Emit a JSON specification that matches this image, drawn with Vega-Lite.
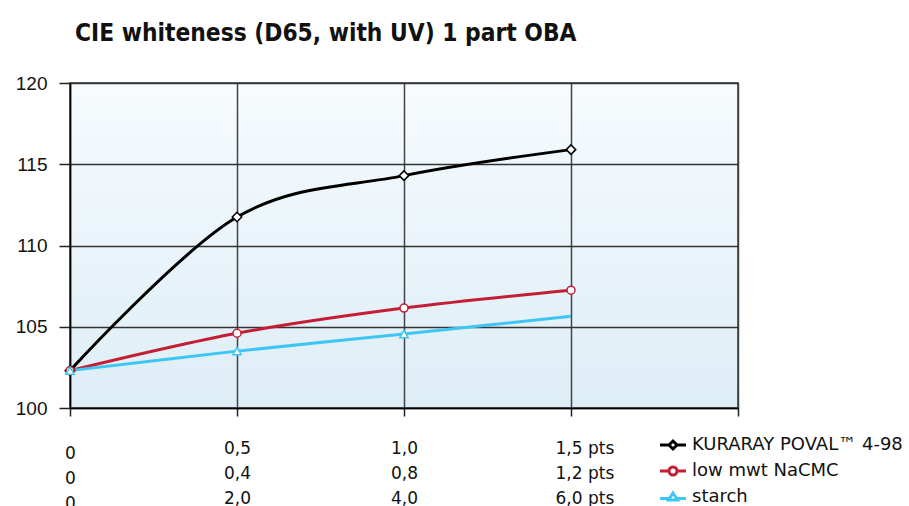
{
  "$schema": "https://vega.github.io/schema/vega-lite/v6.json",
  "width": 668,
  "height": 325,
  "autosize": {"type": "none"},
  "padding": {"left": 70, "top": 83, "right": 171, "bottom": 98},
  "background": "white",
  "title": {
    "text": "CIE whiteness (D65, with UV) 1 part OBA",
    "anchor": "start",
    "frame": "group",
    "dx": 5,
    "offset": 28,
    "font": "DejaVu Sans Condensed",
    "fontSize": 24.3,
    "fontWeight": "bold",
    "color": "#111111"
  },
  "config": {
    "view": {
      "fill": {
        "gradient": "linear",
        "x1": 0, "y1": 0, "x2": 0, "y2": 1,
        "stops": [
          {"offset": 0, "color": "#f7fbfe"},
          {"offset": 1, "color": "#ddedf6"}
        ]
      },
      "stroke": "#333333",
      "strokeWidth": 1.5
    },
    "legend": {
      "orient": "none",
      "legendX": 594,
      "legendY": 353,
      "padding": 0,
      "labelFont": "DejaVu Sans",
      "labelFontSize": 18,
      "labelColor": "#111111",
      "labelLimit": 300,
      "labelOffset": 10,
      "rowPadding": 6,
      "symbolSize": 100,
      "symbolStrokeWidth": 3,
      "symbolFillColor": "white"
    }
  },
  "data": {
    "values": [
      {"series": "KURARAY POVAL™ 4-98", "amount": 0, "whiteness": 102.3},
      {"series": "KURARAY POVAL™ 4-98", "amount": 0.5, "whiteness": 111.75},
      {"series": "KURARAY POVAL™ 4-98", "amount": 1.0, "whiteness": 114.3},
      {"series": "KURARAY POVAL™ 4-98", "amount": 1.5, "whiteness": 115.9},
      {"series": "low mwt NaCMC", "amount": 0, "whiteness": 102.3},
      {"series": "low mwt NaCMC", "amount": 0.5, "whiteness": 104.6},
      {"series": "low mwt NaCMC", "amount": 1.0, "whiteness": 106.15},
      {"series": "low mwt NaCMC", "amount": 1.5, "whiteness": 107.25},
      {"series": "starch", "amount": 0, "whiteness": 102.3},
      {"series": "starch", "amount": 0.5, "whiteness": 103.5},
      {"series": "starch", "amount": 1.0, "whiteness": 104.55},
      {"series": "starch", "amount": 1.5, "whiteness": 105.65}
    ]
  },
  "encoding": {
    "x": {
      "field": "amount",
      "type": "quantitative",
      "scale": {"domain": [0, 2], "nice": false},
      "axis": {
        "values": [0, 0.5, 1, 1.5, 2],
        "title": null,
        "tickSize": 8,
        "tickColor": "#222222",
        "tickWidth": 1.5,
        "domainColor": "#000000",
        "domainWidth": 1.5,
        "gridColor": "#444444",
        "gridWidth": 1.5,
        "labelExpr": "datum.value===0 ? ['0','0','0'] : datum.value===0.5 ? ['0,5','0,4','2,0'] : datum.value===1 ? ['1,0','0,8','4,0'] : datum.value===1.5 ? ['1,5 pts','1,2 pts','6,0 pts'] : ''",
        "labelFont": "DejaVu Sans",
        "labelFontSize": 17,
        "labelColor": "#111111",
        "labelLineHeight": 25,
        "labelPadding": {"condition": {"test": "datum.value===0", "value": 29}, "value": 24},
        "labelAlign": {"condition": {"test": "datum.value===1.5", "value": "left"}, "value": "center"},
        "labelOffset": {"condition": {"test": "datum.value===1.5", "value": -16}, "value": 0},
        "labelBaseline": "top",
        "labelFlush": false,
        "labelOverlap": false
      }
    },
    "y": {
      "field": "whiteness",
      "type": "quantitative",
      "scale": {"domain": [100, 120], "zero": false, "nice": false},
      "axis": {
        "values": [100, 105, 110, 115, 120],
        "title": null,
        "tickSize": 11,
        "tickColor": "#222222",
        "tickWidth": 1.5,
        "domainColor": "#000000",
        "domainWidth": 1.5,
        "gridColor": "#333333",
        "gridWidth": 1.5,
        "labelFont": "Liberation Sans",
        "labelFontSize": 19,
        "labelColor": "#111111",
        "labelPadding": 12
      }
    },
    "color": {
      "field": "series",
      "type": "nominal",
      "scale": {
        "domain": ["KURARAY POVAL™ 4-98", "low mwt NaCMC", "starch"],
        "range": ["#000000", "#c41e34", "#3ec6f2"]
      },
      "legend": {"title": null}
    }
  },
  "layer": [
    {
      "mark": {"type": "line", "interpolate": "cardinal", "strokeWidth": 3}
    },
    {
      "transform": [{"filter": "datum.series==='KURARAY POVAL™ 4-98'"}],
      "mark": {"type": "point", "shape": "diamond", "filled": false, "fill": "white", "strokeWidth": 1.5, "size": 90, "opacity": 1}
    },
    {
      "transform": [{"filter": "datum.series==='low mwt NaCMC'"}],
      "mark": {"type": "point", "shape": "circle", "filled": false, "fill": "white", "strokeWidth": 1.5, "size": 64, "opacity": 1}
    },
    {
      "transform": [{"filter": "datum.series==='starch' && datum.amount < 1.5"}],
      "mark": {"type": "point", "shape": "triangle-up", "filled": false, "fill": "white", "strokeWidth": 1.5, "size": 70, "opacity": 1}
    },
    {
      "transform": [{"filter": "false"}],
      "mark": {"type": "point", "filled": false, "fill": "white", "strokeWidth": 3, "size": 100, "opacity": 1},
      "encoding": {
        "shape": {
          "field": "series",
          "type": "nominal",
          "scale": {
            "domain": ["KURARAY POVAL™ 4-98", "low mwt NaCMC", "starch"],
            "range": [
              "M-2.6,0H-0.8M0.8,0H2.6M-0.8,0L0,-0.8L0.8,0L0,0.8Z",
              "M-2.6,0H-0.8M0.8,0H2.6M-0.8,0A0.8,0.8 0 1,0 0.8,0A0.8,0.8 0 1,0 -0.8,0Z",
              "M-2.6,0.3H-0.9M0.9,0.3H2.6M0,-0.8L0.9,0.6L-0.9,0.6Z"
            ]
          },
          "legend": {"title": null}
        }
      }
    }
  ]
}
